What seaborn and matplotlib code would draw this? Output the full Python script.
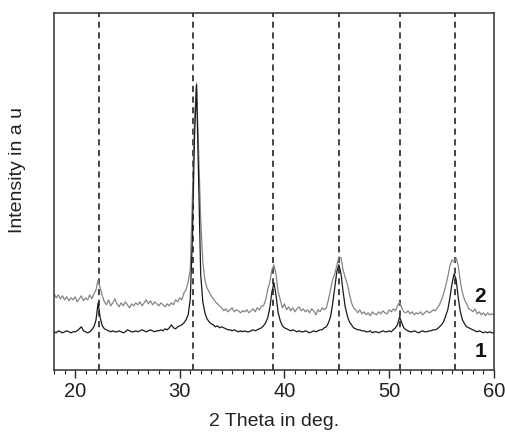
import numpy as np
import pandas as pd
import matplotlib
matplotlib.use("Agg")
import matplotlib.pyplot as plt
import seaborn as sns
from matplotlib.ticker import MultipleLocator

# 2 theta grid, 18..60 deg in 0.2 deg steps
two_theta = np.round(np.arange(18.0, 60.01, 0.2), 1)

# pattern 1 (dark) (2 deg per row)
pattern_1 = [
    38, 37, 39, 38, 37, 38, 39, 38, 37, 38,
    38, 39, 41, 43, 39, 38, 37, 38, 40, 43,
    50, 67, 52, 44, 41, 40, 39, 38, 39, 38,
    38, 39, 38, 37, 38, 40, 39, 38, 38, 39,
    38, 39, 40, 39, 38, 39, 40, 39, 38, 39,
    39, 40, 39, 41, 40, 42, 45, 42, 41, 43,
    44, 45, 47, 50, 55, 70, 130, 230, 285, 190,
    95, 68, 57, 51, 48, 46, 45, 43, 44, 42,
    43, 42, 41, 40, 40, 39, 40, 39, 38, 39,
    38, 39, 38, 38, 39, 40, 39, 40, 41, 42,
    44, 47, 52, 62, 78, 87, 74, 57, 49, 44,
    42, 41, 40, 39, 40, 39, 38, 39, 38, 38,
    39, 38, 37, 38, 39, 38, 39, 40, 40, 42,
    43, 47, 53, 66, 82, 98, 105, 96, 78, 63,
    54, 48, 45, 42, 41, 40, 40, 39, 39, 38,
    38, 39, 37, 38, 38, 37, 38, 39, 38, 38,
    39, 38, 40, 42, 45, 53, 47, 42, 40, 39,
    38, 38, 39, 38, 37, 38, 39, 38, 38, 39,
    39, 40, 40, 41, 43, 45, 48, 54, 60, 72,
    86, 96, 90, 72, 58, 50, 46, 43, 42, 41,
    40, 39, 38, 39, 38, 37, 38, 37, 38, 37,
    37,
]

# pattern 2 (grey), same grid
pattern_2 = [
    76, 72, 75, 71, 74, 70, 73, 69, 72, 70,
    73, 68, 71, 74, 69, 72, 70, 75, 71, 76,
    80, 90, 82, 74, 68, 65, 70, 64, 67, 71,
    66, 63, 67, 64, 68, 65, 62, 66, 64, 67,
    65, 68, 64, 67, 70, 66, 69, 65, 68, 66,
    64, 67, 65, 63, 66, 64, 67, 65, 70, 68,
    72, 70, 77, 80, 88, 100, 170, 250, 287, 220,
    150, 108, 90, 82, 78, 74, 71, 68, 66, 64,
    62, 59, 61, 58, 60, 62, 58, 60, 59, 57,
    59, 58, 60, 57, 59, 61, 58, 62, 60, 64,
    64, 70, 80, 88, 100, 105, 95, 78, 70, 62,
    66, 60, 63, 59, 62, 58, 61, 63, 59, 61,
    58, 60, 57, 61, 59, 55, 60, 58, 62, 60,
    62, 70, 80, 90, 96, 104, 113, 112, 100, 92,
    86, 76, 67, 62, 60, 57, 60, 56, 58, 55,
    57, 54, 58, 56, 55, 58, 56, 59, 57, 56,
    60, 58, 61, 59, 64, 68, 62, 58, 57, 59,
    56, 58, 55, 57, 56, 58, 55, 57, 59, 57,
    58, 60, 59, 62, 65, 70, 76, 84, 93, 104,
    110, 108, 112, 104, 88, 77, 70, 66, 61, 60,
    58, 61, 56, 58, 55, 57, 54, 57, 55, 56,
    55,
]

# reference reflection positions (dashed lines)
reflections = [22.3, 31.3, 38.9, 45.2, 51.0, 56.3]

sns.set_theme(style="ticks")
plt.rcParams['font.family'] = ['Liberation Sans', 'DejaVu Sans']

df = pd.DataFrame({"two_theta": two_theta, "p1": pattern_1, "p2": pattern_2})

fig = plt.figure(figsize=(5.06, 4.32), dpi=100)
ax = fig.add_axes([0.107, 0.144, 0.869, 0.826])

for pos in reflections:
    ax.axvline(pos, color="#111111", lw=1.1, ls=(0, (4, 3)), zorder=1)

sns.lineplot(data=df, x="two_theta", y="p2", color="#858585", lw=0.9, estimator=None, ax=ax, zorder=2)
sns.lineplot(data=df, x="two_theta", y="p1", color="#1a1a1a", lw=0.9, estimator=None, ax=ax, zorder=3)

ax.text(58.7, 73, "2", fontsize=15, fontweight="bold", ha="center", va="center", color="#111111")
ax.text(58.7, 18, "1", fontsize=15, fontweight="bold", ha="center", va="center", color="#111111")

ax.set_xlim(18, 60)
ax.set_ylim(0, 357)
ax.xaxis.set_major_locator(MultipleLocator(10))
ax.xaxis.set_minor_locator(MultipleLocator(1))
ax.tick_params(axis="x", which="major", direction="out", length=6, width=1, labelsize=14.5, pad=3, labelcolor="#222222")
ax.tick_params(axis="x", which="minor", direction="out", length=3, width=0.8)
ax.set_yticks([])
for sp in ax.spines.values():
    sp.set_visible(True)
    sp.set_color("#333333")
    sp.set_linewidth(1.1)

ax.set_xlabel("2 Theta in deg.", fontsize=14, color="#222222")
ax.xaxis.set_label_coords(0.5, -0.12)
ax.set_ylabel("Intensity in a u", fontsize=14, color="#222222")
ax.yaxis.set_label_coords(-0.065, 0.56)

fig.savefig("out.png", dpi=100)
plt.close(fig)
